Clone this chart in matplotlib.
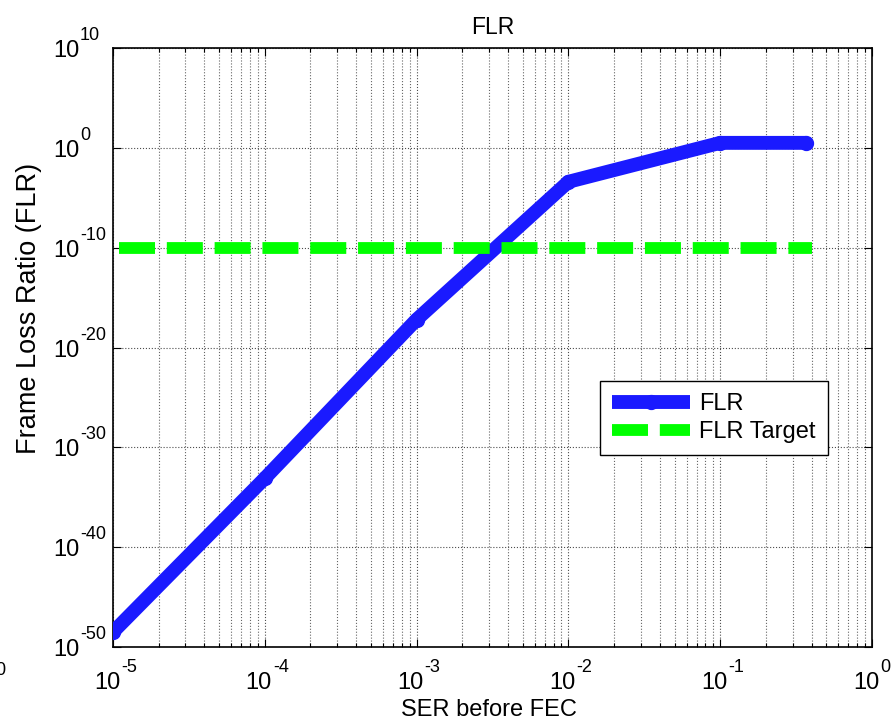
import matplotlib
matplotlib.use("Agg")
import matplotlib.pyplot as plt
import numpy as np
from matplotlib.ticker import LogLocator, FixedLocator, NullFormatter
from matplotlib.transforms import blended_transform_factory, offset_copy

plt.rcParams['font.family'] = ['Liberation Sans', 'DejaVu Sans']

ser = [1e-5, 1e-4, 1e-3, 1e-2, 1e-1, 0.37]
flr = [10**-48.5, 10**-33.1, 10**-17.2, 10**-3.4, 10**0.5, 10**0.5]
target_x = [1.1e-5, 0.40]
target_y = [1e-10, 1e-10]
xticks = [1e-5, 1e-4, 1e-3, 1e-2, 1e-1, 1e0]
xexps = ['-5', '-4', '-3', '-2', '-1', '0']
yticks = [1e-50, 1e-40, 1e-30, 1e-20, 1e-10, 1e0, 1e10]
yexps = ['-50', '-40', '-30', '-20', '-10', '0', '10']

fig = plt.figure(figsize=(8.94, 7.21), dpi=100)
ax = fig.add_axes([0.1264, 0.1026, 0.849, 0.8308])

ax.plot(ser, flr, color='#1a1aff', lw=10, marker='.', markersize=20,
        solid_joinstyle='round', solid_capstyle='butt', label='FLR', zorder=3)
ax.plot(target_x, target_y, color='#00ff00', lw=8.5, dashes=(3.05, 1.0),
        dash_capstyle='butt', label='FLR Target', zorder=3)

ax.set_xscale('log')
ax.set_yscale('log')
ax.set_xlim(1e-5, 1e0)
ax.set_ylim(1e-50, 1e10)

ax.xaxis.set_major_locator(FixedLocator(xticks))
ax.xaxis.set_minor_locator(LogLocator(base=10, subs=np.arange(2, 10), numticks=20))
ax.xaxis.set_minor_formatter(NullFormatter())
ax.yaxis.set_major_locator(FixedLocator(yticks))
ax.yaxis.set_minor_locator(FixedLocator([]))
ax.set_xticklabels([])
ax.set_yticklabels([])

ax.tick_params(which='both', direction='in', top=True, right=True, width=0.8)
ax.tick_params(which='major', length=6)
ax.tick_params(which='minor', length=3)

ax.grid(True, which='major', color='0.3', linestyle=':', lw=0.8)
ax.grid(True, which='minor', axis='x', color='0.4', linestyle=':', lw=0.8)
for s in ax.spines.values():
    s.set_linewidth(1.2)

# MATLAB-style power-of-ten tick labels
base_fs = 17
exp_fs = 13
tx = blended_transform_factory(ax.transData, ax.transAxes)
for v, e in zip(xticks, xexps):
    dx = 7
    ax.text(v, 0, '10', fontsize=base_fs, ha='right', va='baseline',
            transform=offset_copy(tx, fig=fig, x=dx, y=-42, units='dots'), clip_on=False)
    ax.text(v, 0, e, fontsize=exp_fs, ha='left', va='baseline',
            transform=offset_copy(tx, fig=fig, x=dx + 1, y=-25, units='dots'), clip_on=False)
ty = blended_transform_factory(ax.transAxes, ax.transData)
for v, e in zip(yticks, yexps):
    ax.text(0, v, '10', fontsize=base_fs, ha='right', va='baseline',
            transform=offset_copy(ty, fig=fig, x=-34, y=-9, units='dots'), clip_on=False)
    ax.text(0, v, e, fontsize=exp_fs, ha='left', va='baseline',
            transform=offset_copy(ty, fig=fig, x=-33, y=8, units='dots'), clip_on=False)

ax.set_title('FLR', fontsize=16.5, pad=10)
fig.text(489 / 894, 5 / 721, 'SER before FEC', fontsize=17, ha='center', va='baseline')
fig.text(29 / 894, 1 - 308 / 721, 'Frame Loss Ratio (FLR)', fontsize=19.5, rotation=90,
         ha='center', va='center')

leg = ax.legend(loc='upper left', bbox_to_anchor=(0.642, 0.444),
                fontsize=17, handlelength=3.3, handletextpad=0.4, fancybox=False,
                framealpha=1, edgecolor='black', borderaxespad=0, borderpad=0.5,
                labelspacing=0.25)
leg.get_frame().set_linewidth(1.0)

fig.text(5 / 894, 46 / 721, '0', fontsize=exp_fs, ha='right', va='baseline')

fig.savefig('out.png', dpi=100)
